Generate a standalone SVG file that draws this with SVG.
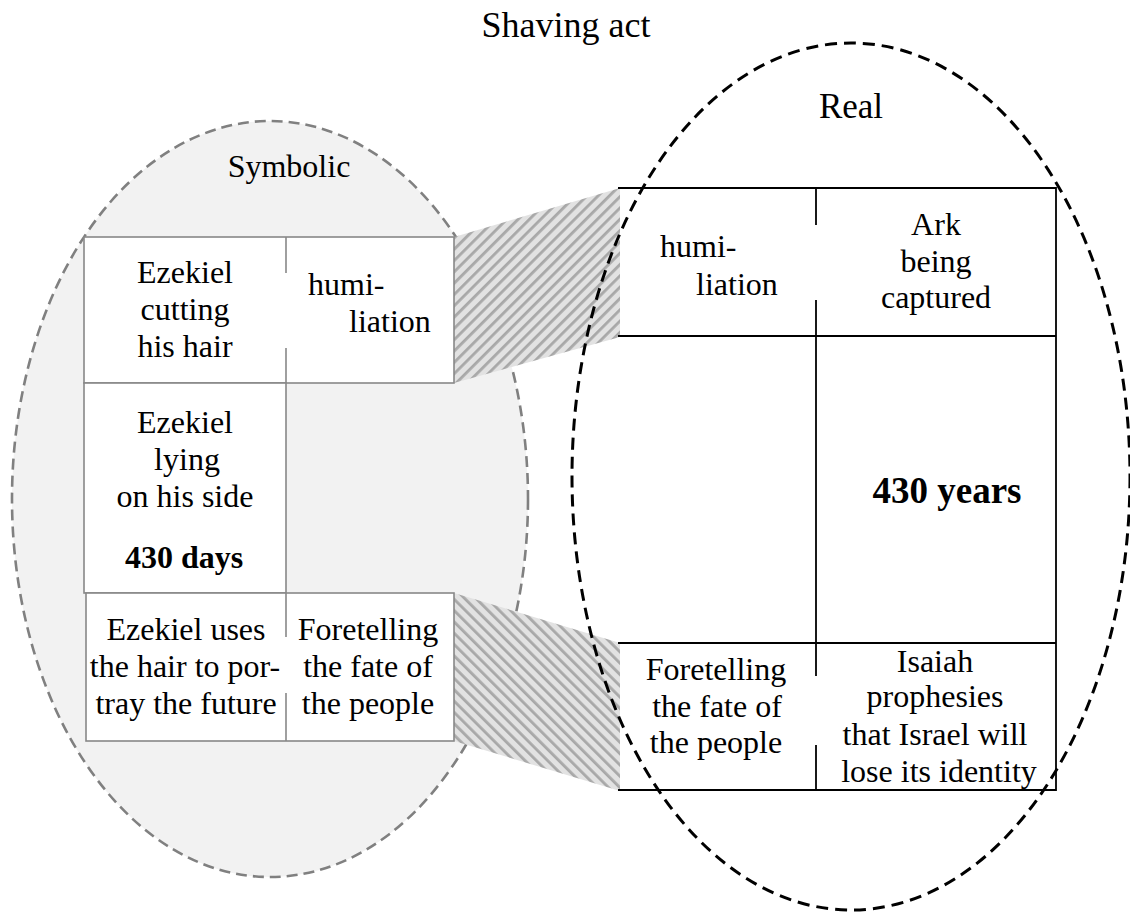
<svg xmlns="http://www.w3.org/2000/svg" width="1130" height="913" viewBox="0 0 1130 913">
  <style>
    .gcell { fill: #fff; stroke: #888; stroke-width: 1.6; }
    .gline { stroke: #888; stroke-width: 1.6; fill: none; }
    .kline { stroke: #000; stroke-width: 1.8; fill: none; }
  </style>
  <defs>
    <pattern id="hatchA" width="8" height="8" patternUnits="userSpaceOnUse" patternTransform="rotate(45)">
      <rect width="8" height="8" fill="#e2e2e2"/>
      <rect x="0" y="0" width="2.8" height="8" fill="#a8a8a8"/>
    </pattern>
    <pattern id="hatchB" width="8" height="8" patternUnits="userSpaceOnUse" patternTransform="rotate(-45)">
      <rect width="8" height="8" fill="#e2e2e2"/>
      <rect x="0" y="0" width="2.8" height="8" fill="#a8a8a8"/>
    </pattern>
  </defs>

  <rect width="1130" height="913" fill="#fff"/>

  <g id="title">
    <text font-family="Liberation Serif, serif" font-size="36" text-anchor="middle" x="566" y="37">Shaving act</text>
  </g>

  <g id="symbolic-ellipse">
    <ellipse cx="270" cy="499" rx="258" ry="378" fill="#f2f2f2" stroke="#808080" stroke-width="2.6" stroke-dasharray="11 6"/>
    <text font-family="Liberation Serif, serif" font-size="32" text-anchor="middle" x="289" y="177">Symbolic</text>
  </g>

  <g id="connectors">
    <polygon points="454,237 620,188 620,337 454,383" fill="url(#hatchA)"/>
    <polygon points="454,593 620,643 620,791 454,741" fill="url(#hatchB)"/>
  </g>

  <g id="symbolic-row1">
    <rect class="gcell" x="84" y="237" width="370" height="146"/>
    <rect x="283" y="274" width="6" height="73" fill="#fff"/>
    <line class="gline" x1="286" y1="237" x2="286" y2="273"/>
    <line class="gline" x1="286" y1="348" x2="286" y2="383"/>
    <text font-family="Liberation Serif, serif" font-size="32" text-anchor="middle" x="185" y="283">Ezekiel</text>
    <text font-family="Liberation Serif, serif" font-size="32" text-anchor="middle" x="185" y="320">cutting</text>
    <text font-family="Liberation Serif, serif" font-size="32" text-anchor="middle" x="185" y="357">his hair</text>
    <text font-family="Liberation Serif, serif" font-size="32" x="308" y="295">humi-</text>
    <text font-family="Liberation Serif, serif" font-size="32" x="349" y="332">liation</text>
  </g>

  <g id="symbolic-row2">
    <rect class="gcell" x="84" y="383" width="202" height="210"/>
    <text font-family="Liberation Serif, serif" font-size="32" text-anchor="middle" x="185" y="433">Ezekiel</text>
    <text font-family="Liberation Serif, serif" font-size="32" text-anchor="middle" x="187" y="470">lying</text>
    <text font-family="Liberation Serif, serif" font-size="32" text-anchor="middle" x="185" y="507">on his side</text>
    <text font-family="Liberation Serif, serif" font-size="32" font-weight="bold" text-anchor="middle" x="184" y="568">430 days</text>
  </g>

  <g id="symbolic-row3">
    <rect class="gcell" x="86" y="593" width="368" height="148"/>
    <line class="gline" x1="286" y1="593" x2="286" y2="637"/>
    <line class="gline" x1="286" y1="693" x2="286" y2="741"/>
    <text font-family="Liberation Serif, serif" font-size="32" text-anchor="middle" x="186" y="640">Ezekiel uses</text>
    <text font-family="Liberation Serif, serif" font-size="32" text-anchor="middle" x="185" y="677">the hair to por-</text>
    <text font-family="Liberation Serif, serif" font-size="32" text-anchor="middle" x="186" y="714">tray the future</text>
    <text font-family="Liberation Serif, serif" font-size="32" text-anchor="middle" x="368" y="640">Foretelling</text>
    <text font-family="Liberation Serif, serif" font-size="32" text-anchor="middle" x="368" y="677">the fate of</text>
    <text font-family="Liberation Serif, serif" font-size="32" text-anchor="middle" x="368" y="714">the people</text>
  </g>

  <g id="real-table">
    <rect x="620" y="188" width="436" height="602" fill="#fff"/>
    <polyline class="kline" points="618,188 1056,188 1056,790 618,790"/>
    <line class="kline" x1="618" y1="336" x2="1056" y2="336"/>
    <line class="kline" x1="618" y1="643" x2="1056" y2="643"/>
    <line class="kline" x1="816" y1="188" x2="816" y2="225"/>
    <line class="kline" x1="816" y1="300" x2="816" y2="676"/>
    <line class="kline" x1="816" y1="745" x2="816" y2="790"/>
  </g>

  <g id="real-row1">
    <text font-family="Liberation Serif, serif" font-size="32" x="660" y="257">humi-</text>
    <text font-family="Liberation Serif, serif" font-size="32" x="696" y="295">liation</text>
    <text font-family="Liberation Serif, serif" font-size="32" text-anchor="middle" x="936" y="235">Ark</text>
    <text font-family="Liberation Serif, serif" font-size="32" text-anchor="middle" x="936" y="272">being</text>
    <text font-family="Liberation Serif, serif" font-size="32" text-anchor="middle" x="936" y="308">captured</text>
  </g>

  <g id="real-row2">
    <text font-family="Liberation Serif, serif" font-size="37" font-weight="bold" text-anchor="middle" x="947" y="503">430 years</text>
  </g>

  <g id="real-row3">
    <text font-family="Liberation Serif, serif" font-size="32" text-anchor="middle" x="716" y="680">Foretelling</text>
    <text font-family="Liberation Serif, serif" font-size="32" text-anchor="middle" x="717" y="717">the fate of</text>
    <text font-family="Liberation Serif, serif" font-size="32" text-anchor="middle" x="716" y="753">the people</text>
    <text font-family="Liberation Serif, serif" font-size="32" text-anchor="middle" x="935" y="672">Isaiah</text>
    <text font-family="Liberation Serif, serif" font-size="32" text-anchor="middle" x="935" y="707">prophesies</text>
    <text font-family="Liberation Serif, serif" font-size="32" text-anchor="middle" x="935" y="745">that Israel will</text>
    <text font-family="Liberation Serif, serif" font-size="32" text-anchor="middle" x="939" y="782">lose its identity</text>
  </g>

  <g id="real-ellipse">
    <ellipse cx="851" cy="476.5" rx="279" ry="433.5" fill="none" stroke="#000" stroke-width="3" stroke-dasharray="12 7"/>
    <text font-family="Liberation Serif, serif" font-size="35" text-anchor="middle" x="851" y="118">Real</text>
  </g>
</svg>
